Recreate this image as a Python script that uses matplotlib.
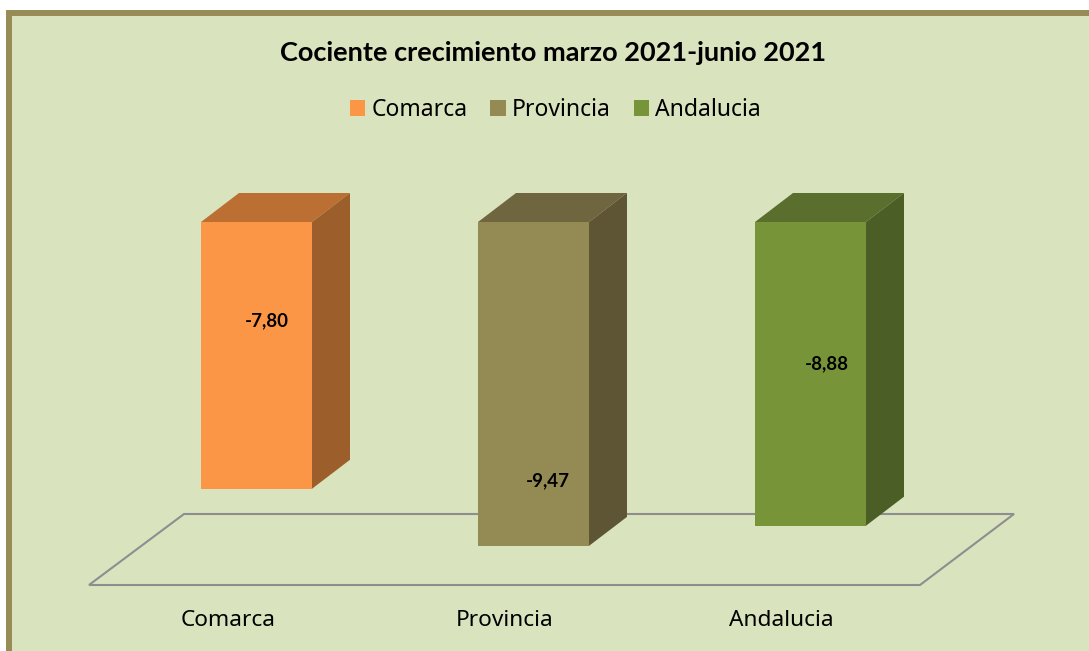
import matplotlib
matplotlib.use('Agg')
import matplotlib.pyplot as plt
from matplotlib.patches import Polygon, Rectangle

categorias = ['Comarca', 'Provincia', 'Andalucia']
valores = [-7.80, -9.47, -8.88]
etiquetas = ['-7,80', '-9,47', '-8,88']
titulo = 'Cociente crecimiento marzo 2021-junio 2021'

# colores: frente, tapa, lateral
frente = ['#FB9647', '#948A54', '#779438']
tapa = ['#BC6F33', '#6F6640', '#5A6F2E']
lateral = ['#9C5E2A', '#5E5535', '#4B5E26']

W, H = 1089, 651
fondo = '#D9E4BE'
marco = '#978C55'

# escala: 277 px por categoria, 34.2 px por unidad, el 0 en y=222 px
esc_x, esc_y = 277.0, 34.2
x0, y0 = 256.5, 222.0
ancho = 111 / esc_x
prof_x, prof_y = 38 / esc_x, 29 / esc_y


def px(x, y):
    # pixel de la imagen -> coordenadas de datos
    return (x - x0) / esc_x, (y0 - y) / esc_y


fig = plt.figure(figsize=(W / 100, H / 100), dpi=100, facecolor='white')
ax = fig.add_axes([0, 0, 1, 1])
ax.set_xlim(-x0 / esc_x, (W - x0) / esc_x)
ax.set_ylim((y0 - H) / esc_y, y0 / esc_y)
ax.axis('off')

# fondo con marco
ax.add_patch(Rectangle((9 / W, 1 - 12.5 / H), 1.1, -1.1, transform=ax.transAxes,
                       facecolor=fondo, edgecolor=marco, linewidth=4.3, zorder=0))

# suelo
suelo = [px(89, 585), px(920, 585), px(1014, 514), px(184, 514)]
ax.add_patch(Polygon(suelo, closed=True, facecolor='none', edgecolor='#8E8E8E',
                     linewidth=1.5, zorder=1))

# barras
for i, v in enumerate(valores):
    a, b = i - ancho / 2, i + ancho / 2
    ax.bar(i, v, width=ancho, color=frente[i], linewidth=0, zorder=3)
    ax.add_patch(Polygon([(a, 0), (b, 0), (b + prof_x, prof_y), (a + prof_x, prof_y)],
                         closed=True, facecolor=tapa[i], edgecolor='none', zorder=3))
    ax.add_patch(Polygon([(b, 0), (b + prof_x, prof_y), (b + prof_x, v + prof_y), (b, v)],
                         closed=True, facecolor=lateral[i], edgecolor='none', zorder=3))

# etiquetas de datos
pos_etiquetas = [(267, 321), (548, 481), (827, 364)]
for (xp, yp), t in zip(pos_etiquetas, etiquetas):
    xd, yd = px(xp, yp)
    ax.text(xd, yd, t, ha='center', va='center', fontsize=13.5, fontweight='bold',
            family='Lato', color='black', zorder=5)

# categorias
pos_cat = [228, 505, 781]
for xp, c in zip(pos_cat, categorias):
    xd, yd = px(xp, 620.5)
    ax.text(xd, yd, c, ha='center', va='center', fontsize=16.3, family='Noto Sans',
            color='black', zorder=5)

# titulo
xd, yd = px(553.5, 53)
ax.text(xd, yd, titulo, ha='center', va='center', fontsize=19.5, fontweight='bold',
        family='Lato', color='black', zorder=5)

# leyenda
cuadros = [Rectangle((0, 0), 1, 1, facecolor=c, edgecolor='none') for c in frente]
ax.legend(cuadros, categorias, ncol=3, loc='center',
          bbox_to_anchor=(555.5 / W, 1 - 110 / H), frameon=False,
          prop={'family': 'Noto Sans', 'size': 16.5}, handlelength=0.68, handleheight=0.68,
          handletextpad=0.26, columnspacing=1.0, borderpad=0, labelcolor='black')

fig.savefig('out.png', dpi=100, facecolor='white')
